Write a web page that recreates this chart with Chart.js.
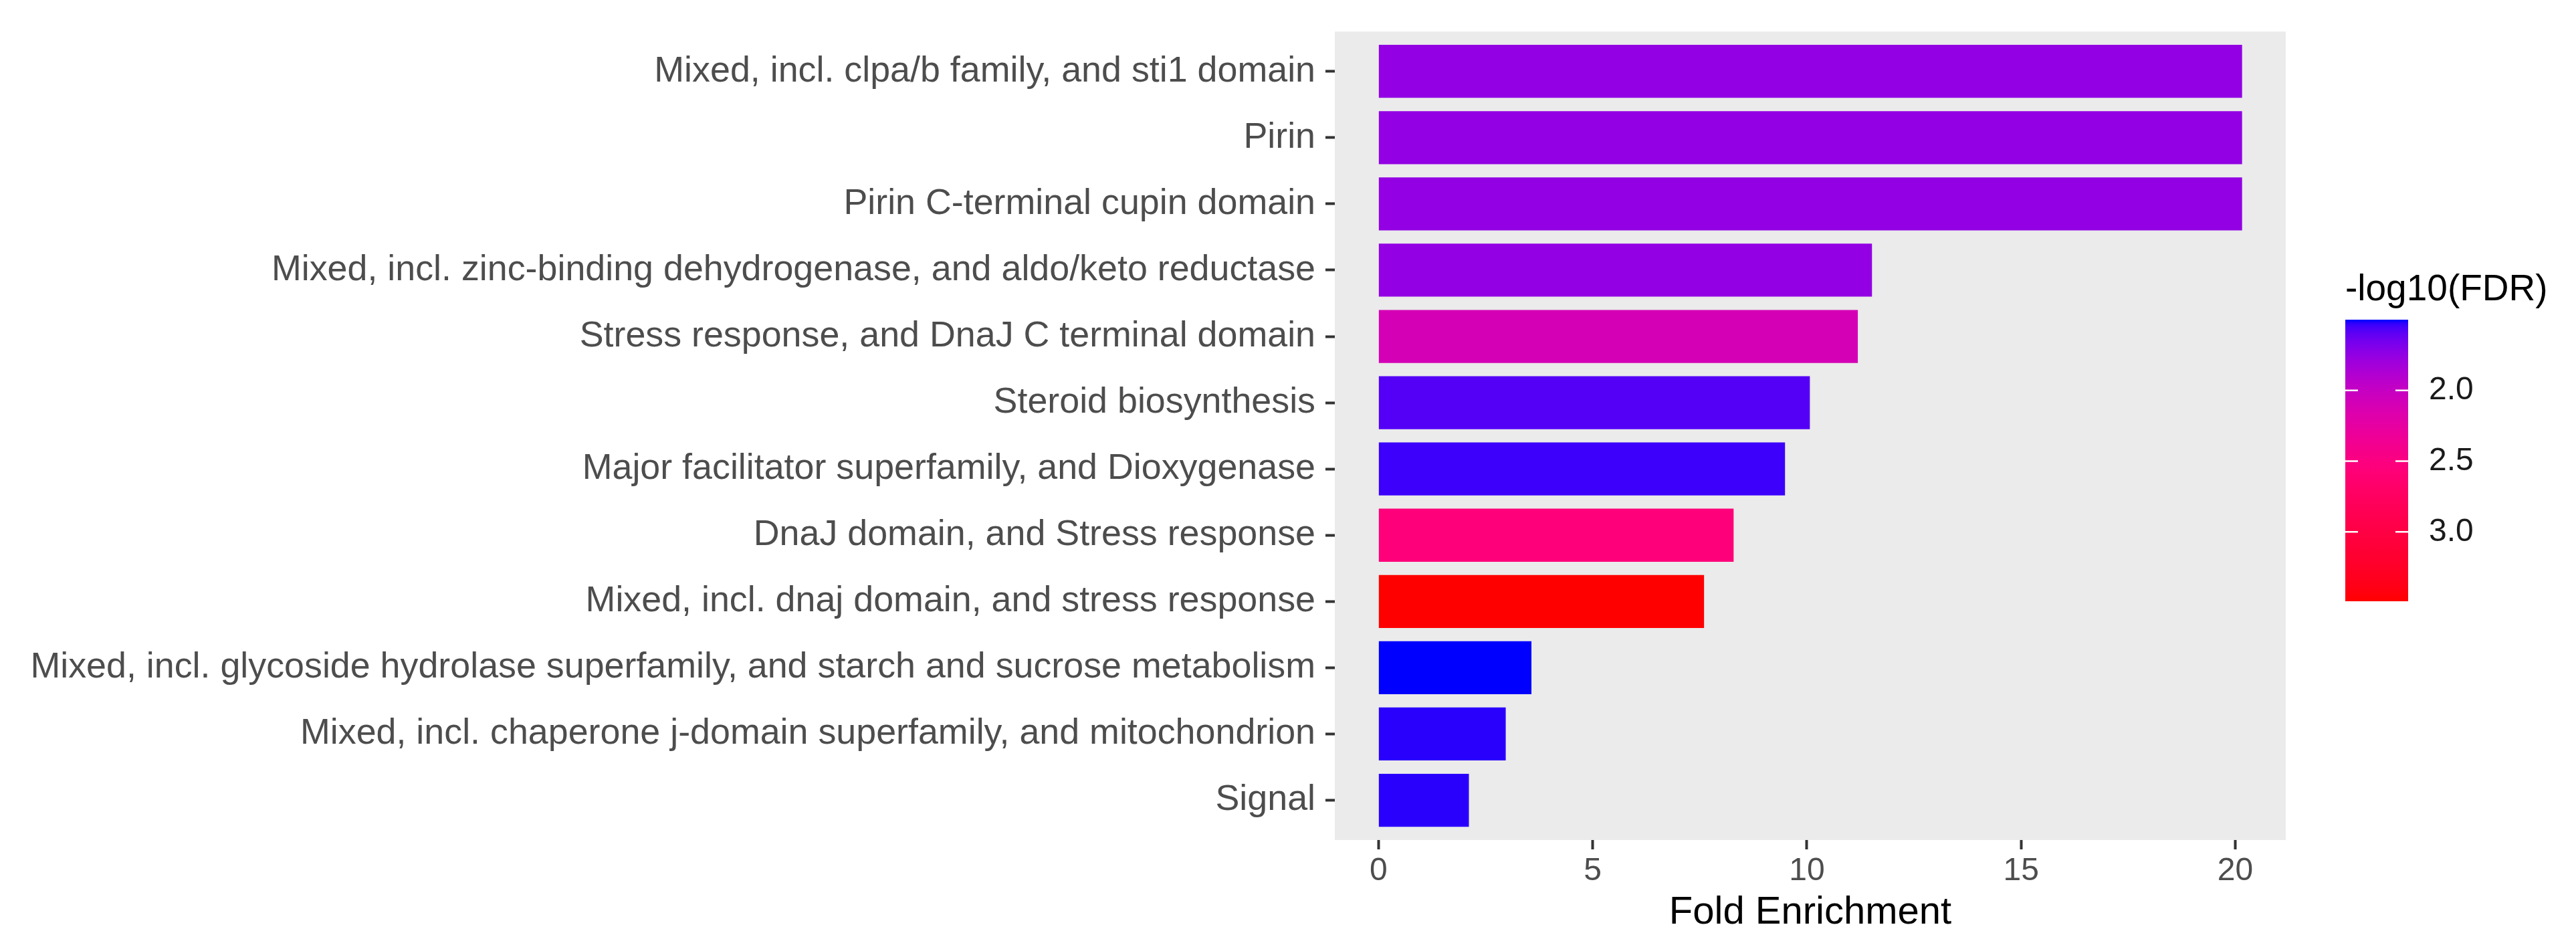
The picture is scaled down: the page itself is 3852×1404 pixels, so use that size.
<!DOCTYPE html>
<html>
<head>
<meta charset="utf-8">
<script src="https://cdn.jsdelivr.net/npm/chart.js@4.4.1/dist/chart.umd.min.js"></script>
<style>
  html, body { margin: 0; padding: 0; background: #ffffff; }
  canvas { display: block; }
</style>
</head>
<body>
<canvas id="myChart" width="3852" height="1404"></canvas>
<script>
// Enriched terms, listed top to bottom as in the figure
const categories = [
  'Mixed, incl. clpa/b family, and sti1 domain',
  'Pirin',
  'Pirin C-terminal cupin domain',
  'Mixed, incl. zinc-binding dehydrogenase, and aldo/keto reductase',
  'Stress response, and DnaJ C terminal domain',
  'Steroid biosynthesis',
  'Major facilitator superfamily, and Dioxygenase',
  'DnaJ domain, and Stress response',
  'Mixed, incl. dnaj domain, and stress response',
  'Mixed, incl. glycoside hydrolase superfamily, and starch and sucrose metabolism',
  'Mixed, incl. chaperone j-domain superfamily, and mitochondrion',
  'Signal'
];
const foldEnrichment = [20.16, 20.16, 20.16, 11.52, 11.19, 10.07, 9.49, 8.29, 7.6, 3.57, 2.97, 2.11];
const negLog10FDR = [1.75, 1.75, 1.75, 1.75, 2.10, 1.58, 1.54, 2.55, 3.49, 1.50, 1.52, 1.52];
const xTicks = [0, 5, 10, 15, 20];
const legendTicks = [2.0, 2.5, 3.0];

const FONT = "'Liberation Sans', Arial, Helvetica, sans-serif";

// Gradient low (blue) -> high (red), interpolated in polar Lab (hue, chroma, luminance)
const WHITE = [0.95047, 1.0, 1.08883];
function toLinear(c) { c /= 255; return c <= 0.04045 ? c / 12.92 : Math.pow((c + 0.055) / 1.055, 2.4); }
function fromLinear(c) {
  c = Math.max(0, Math.min(1, c));
  return 255 * (c <= 0.0031308 ? 12.92 * c : 1.055 * Math.pow(c, 1 / 2.4) - 0.055);
}
function rgbToLch(rgb) {
  const [r, g, b] = rgb.map(toLinear);
  const X = 0.4124 * r + 0.3576 * g + 0.1805 * b;
  const Y = 0.2126 * r + 0.7152 * g + 0.0722 * b;
  const Z = 0.0193 * r + 0.1192 * g + 0.9505 * b;
  const f = t => t > 0.008856 ? Math.cbrt(t) : 7.787 * t + 16 / 116;
  const fx = f(X / WHITE[0]), fy = f(Y / WHITE[1]), fz = f(Z / WHITE[2]);
  const L = 116 * fy - 16, A = 500 * (fx - fy), B = 200 * (fy - fz);
  return [L, Math.hypot(A, B), Math.atan2(B, A) * 180 / Math.PI];
}
function lchToRgb([L, C, H]) {
  const A = C * Math.cos(H * Math.PI / 180), B = C * Math.sin(H * Math.PI / 180);
  const fy = (L + 16) / 116, fx = fy + A / 500, fz = fy - B / 200;
  const inv = t => t * t * t > 0.008856 ? t * t * t : (t - 16 / 116) / 7.787;
  const X = WHITE[0] * inv(fx), Y = WHITE[1] * inv(fy), Z = WHITE[2] * inv(fz);
  const r = 3.2406 * X - 1.5372 * Y - 0.4986 * Z;
  const g = -0.9689 * X + 1.8758 * Y + 0.0415 * Z;
  const b = 0.0557 * X - 0.2040 * Y + 1.0570 * Z;
  return [r, g, b].map(c => Math.round(fromLinear(c)));
}
const lowLch = rgbToLch([0, 0, 255]);
const highLch = rgbToLch([255, 0, 0]);
let hueStep = highLch[2] - lowLch[2];
if (hueStep > 180) hueStep -= 360;
if (hueStep < -180) hueStep += 360;
const fdrMin = Math.min(...negLog10FDR);
const fdrMax = Math.max(...negLog10FDR);
function fillColor(v) {
  const t = Math.max(0, Math.min(1, (v - fdrMin) / (fdrMax - fdrMin)));
  const lch = [
    lowLch[0] + (highLch[0] - lowLch[0]) * t,
    lowLch[1] + (highLch[1] - lowLch[1]) * t,
    lowLch[2] + hueStep * t
  ];
  const [r, g, b] = lchToRgb(lch);
  return `rgb(${r}, ${g}, ${b})`;
}

// Grey panel behind the bars
const panelBackground = {
  id: 'panelBackground',
  beforeDraw(chart) {
    const { ctx, chartArea: a } = chart;
    ctx.save();
    ctx.fillStyle = '#EBEBEB';
    ctx.fillRect(a.left, a.top, a.right - a.left, a.bottom - a.top);
    ctx.restore();
  }
};

// Continuous colour bar legend for -log10(FDR)
const colourBar = {
  id: 'colourBar',
  afterDraw(chart) {
    const { ctx } = chart;
    const left = 3507, width = 94, top = 478, bottom = 899;
    const yFor = v => top + (v - fdrMin) / (fdrMax - fdrMin) * (bottom - top);
    ctx.save();
    ctx.fillStyle = '#000000';
    ctx.font = `55px ${FONT}`;
    ctx.textAlign = 'left';
    ctx.textBaseline = 'alphabetic';
    ctx.fillText('-log10(FDR)', left, 449);

    const grad = ctx.createLinearGradient(0, top, 0, bottom);
    for (let i = 0; i <= 60; i++) {
      grad.addColorStop(i / 60, fillColor(fdrMin + (fdrMax - fdrMin) * i / 60));
    }
    ctx.fillStyle = grad;
    ctx.fillRect(left, top, width, bottom - top);

    ctx.strokeStyle = '#ffffff';
    ctx.lineWidth = 2.5;
    ctx.fillStyle = '#1A1A1A';
    ctx.font = `48px ${FONT}`;
    ctx.textBaseline = 'middle';
    legendTicks.forEach(v => {
      const y = yFor(v);
      ctx.beginPath();
      ctx.moveTo(left, y); ctx.lineTo(left + 19, y);
      ctx.moveTo(left + width - 19, y); ctx.lineTo(left + width, y);
      ctx.stroke();
      ctx.fillText(v.toFixed(1), left + 125, y);
    });
    ctx.restore();
  }
};

const data = {
  datasets: [{
    data: foldEnrichment.map((v, i) => ({ x: v, y: i + 1 })),
    backgroundColor: negLog10FDR.map(fillColor),
    borderWidth: 0,
    barPercentage: 0.8,
    categoryPercentage: 1.0
  }]
};

const config = {
  type: 'bar',
  data: data,
  options: {
    indexAxis: 'y',
    responsive: false,
    animation: false,
    devicePixelRatio: 1,
    layout: { padding: { top: 40, right: 434, bottom: 0, left: 0 } },
    plugins: {
      legend: { display: false },
      tooltip: { enabled: false }
    },
    scales: {
      x: {
        type: 'linear',
        min: -1.02,
        max: 21.18,
        bounds: 'data',
        afterBuildTicks: s => { s.ticks = xTicks.map(v => ({ value: v })); },
        grid: { drawOnChartArea: false, drawTicks: true, tickLength: 14, tickWidth: 4, tickColor: '#333333' },
        border: { display: false },
        ticks: { font: { family: FONT, size: 48 }, color: '#4D4D4D', padding: 4, maxRotation: 0 },
        title: {
          display: true,
          text: 'Fold Enrichment',
          color: '#000000',
          font: { family: FONT, size: 58 },
          padding: { top: 0, bottom: 4 }
        },
        afterFit: s => { s.height = 148; }
      },
      y: {
        type: 'linear',
        min: 0.4,
        max: 12.6,
        reverse: true,
        offset: false,
        bounds: 'data',
        afterBuildTicks: s => { s.ticks = categories.map((c, i) => ({ value: i + 1 })); },
        grid: { offset: false, drawOnChartArea: false, drawTicks: true, tickLength: 14, tickWidth: 4, tickColor: '#333333' },
        border: { display: false },
        ticks: {
          autoSkip: false,
          font: { family: FONT, size: 53.8 },
          color: '#4D4D4D',
          padding: 15,
          callback: v => categories[v - 1]
        },
        afterFit: s => { s.width = 1996; }
      }
    }
  },
  plugins: [panelBackground, colourBar]
};

const ctx = document.getElementById('myChart');
new Chart(ctx, config);
</script>
</body>
</html>
